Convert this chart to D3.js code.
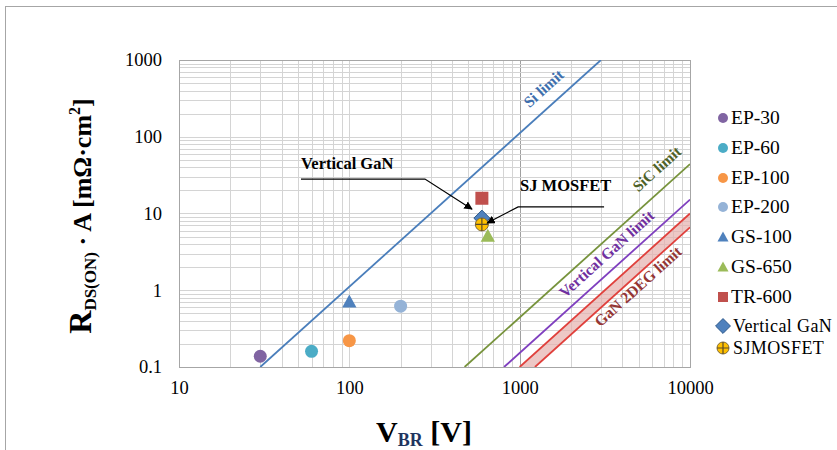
<!DOCTYPE html>
<html>
<head>
<meta charset="utf-8">
<script src="https://cdn.jsdelivr.net/npm/d3@7"></script>
<style>
  body { margin: 0; background: #fff; }
  svg { display: block; }
  svg text { font-family: 'Liberation Serif', 'Times New Roman', serif; }
</style>
</head>
<body>
<div id="chart"></div>
<script>
// device series (VBR in V, Ron*A in mOhm*cm2)
const seriesNames = ['EP-30', 'EP-60', 'EP-100', 'EP-200', 'GS-100', 'GS-650', 'TR-600', 'Vertical GaN', 'SJMOSFET']
const seriesVbr = [30, 60, 100, 200, 100, 650, 600, 600, 600]
const seriesRon = [0.138, 0.16, 0.22, 0.62, 0.71, 5.1, 15.8, 8.7, 7.2]

// material limit lines, start / end points
const limitNames = ['Si limit', 'SiC limit', 'Vertical GaN limit', 'GaN 2DEG limit']
const limitVbr = [[30, 3000], [475, 10000], [810, 10000], [1000, 10000]]
const limitRon = [[0.1, 1000], [0.1, 44], [0.1, 15.2], [0.1, 10]]
// lower edge of the 2DEG band
const bandLowVbr = [1230, 10000]
const bandLowRon = [0.1, 6.6]

const xTicks = [10, 100, 1000, 10000]
const yTicks = [0.1, 1, 10, 100, 1000]

const FONT = "'Liberation Serif', 'Times New Roman', serif"

const colors = {
  'EP-30': '#8064A2',
  'EP-60': '#4BACC6',
  'EP-100': '#F79646',
  'EP-200': '#95B3D7',
  'GS-100': '#4F81BD',
  'GS-650': '#9BBB59',
  'TR-600': '#C0504D',
  'Vertical GaN': '#4F81BD',
  SJMOSFET: '#FFC000'
}
const shapes = {
  'GS-100': 'triangle',
  'GS-650': 'triangle',
  'TR-600': 'square',
  'Vertical GaN': 'diamond',
  SJMOSFET: 'cross'
}
const lineColors = ['#4A7EBB', '#77933C', '#7F3FBF', '#E0403C']
const labelColors = ['#3E6FAE', '#4F6228', '#7030A0', '#953735']

const width = 837
const height = 450
const margin = { top: 60, right: 147, bottom: 83, left: 179 }

const svg = d3.select('#chart').append('svg')
  .attr('width', width)
  .attr('height', height)
  .attr('font-family', FONT)

svg.append('rect')
  .attr('width', width)
  .attr('height', height)
  .attr('fill', '#fff')

// outer chart frame
svg.append('rect')
  .attr('x', 5.5)
  .attr('y', 6.5)
  .attr('width', width + 20)
  .attr('height', height + 20)
  .attr('fill', 'none')
  .attr('stroke', '#a6a6a6')

const x = d3.scaleLog()
  .domain([10, 10000])
  .range([margin.left, width - margin.right])

const y = d3.scaleLog()
  .domain([0.1, 1000])
  .range([height - margin.bottom, margin.top])

// grid
const grid = svg.append('g')
grid.selectAll('line.vx')
  .data(x.ticks())
  .enter()
  .append('line')
  .attr('x1', d => Math.round(x(d)) + 0.5)
  .attr('x2', d => Math.round(x(d)) + 0.5)
  .attr('y1', y.range()[1])
  .attr('y2', y.range()[0])
  .attr('stroke', d => d === 1000 ? '#a0a0a0' : '#d4d4d4')
grid.selectAll('line.hy')
  .data(y.ticks())
  .enter()
  .append('line')
  .attr('y1', d => Math.round(y(d)) + 0.5)
  .attr('y2', d => Math.round(y(d)) + 0.5)
  .attr('x1', x.range()[0])
  .attr('x2', x.range()[1])
  .attr('stroke', '#d4d4d4')

svg.append('rect')
  .attr('x', x.range()[0] + 0.5)
  .attr('y', y.range()[1] + 0.5)
  .attr('width', x.range()[1] - x.range()[0])
  .attr('height', y.range()[0] - y.range()[1])
  .attr('fill', 'none')
  .attr('stroke', '#a6a6a6')

// axes (labels only, Excel style)
const xAxis = d3.axisBottom(x).tickValues(xTicks).tickFormat(d3.format('d')).tickSize(0).tickPadding(14)
svg.append('g')
  .attr('transform', `translate(0,${y.range()[0]})`)
  .call(xAxis)
  .attr('font-family', FONT)
  .attr('font-size', 18.5)
  .call(g => g.select('.domain').remove())
  .selectAll('text')
  .attr('fill', '#000')

const yAxis = d3.axisLeft(y).tickValues(yTicks).tickFormat(d => d < 1 ? '0.1' : d3.format('d')(d)).tickSize(0).tickPadding(17)
svg.append('g')
  .attr('transform', `translate(${x.range()[0]},0)`)
  .call(yAxis)
  .attr('font-family', FONT)
  .attr('font-size', 18.5)
  .call(g => g.select('.domain').remove())
  .selectAll('text')
  .attr('fill', '#000')

// clip for the limit lines
svg.append('clipPath')
  .attr('id', 'plotClip')
  .append('rect')
  .attr('x', x.range()[0])
  .attr('y', y.range()[1])
  .attr('width', x.range()[1] - x.range()[0])
  .attr('height', y.range()[0] - y.range()[1])

const plot = svg.append('g').attr('clip-path', 'url(#plotClip)')

// 2DEG band
const band = [
  [limitVbr[3][0], limitRon[3][0]],
  [limitVbr[3][1], limitRon[3][1]],
  [bandLowVbr[1], bandLowRon[1]],
  [bandLowVbr[0], bandLowRon[0]]
]
const lineGen = d3.line().x(d => x(d[0])).y(d => y(d[1]))
plot.append('path')
  .attr('d', lineGen(band) + 'Z')
  .attr('fill', '#E6B0AE')
  .attr('fill-opacity', 0.7)

limitNames.forEach((name, i) => {
  const pts = [[limitVbr[i][0], limitRon[i][0]], [limitVbr[i][1], limitRon[i][1]]]
  plot.append('path')
    .attr('d', lineGen(pts))
    .attr('stroke', lineColors[i])
    .attr('stroke-width', 1.8)
    .attr('fill', 'none')
})
plot.append('path')
  .attr('d', lineGen([[bandLowVbr[0], bandLowRon[0]], [bandLowVbr[1], bandLowRon[1]]]))
  .attr('stroke', lineColors[3])
  .attr('stroke-width', 1.8)
  .attr('fill', 'none')

// limit labels, placed along each line
const labelAt = [[1450, 380], [6700, 34], [3400, 2.65], [5200, 1.0]]
const angle = Math.atan2(y(1000) - y(0.1), x(3000) - x(30)) * 180 / Math.PI
limitNames.forEach((name, i) => {
  svg.append('text')
    .attr('transform', `translate(${x(labelAt[i][0])},${y(labelAt[i][1])}) rotate(${angle})`)
    .attr('text-anchor', 'middle')
    .attr('font-family', FONT)
    .attr('font-weight', 'bold')
    .attr('font-size', 15.5)
    .attr('fill', labelColors[i])
    .text(name)
})

// markers
function drawMarker (g, name, cx, cy, s) {
  const c = colors[name]
  const shape = shapes[name] || 'circle'
  if (shape === 'circle') {
    g.append('circle').attr('cx', cx).attr('cy', cy).attr('r', s / 2).attr('fill', c)
  } else if (shape === 'triangle') {
    g.append('path')
      .attr('d', `M${cx},${cy - s * 0.55}L${cx + s * 0.55},${cy + s * 0.45}L${cx - s * 0.55},${cy + s * 0.45}Z`)
      .attr('fill', c)
  } else if (shape === 'square') {
    g.append('rect').attr('x', cx - s / 2).attr('y', cy - s / 2).attr('width', s).attr('height', s).attr('fill', c)
  } else if (shape === 'diamond') {
    const r = s * 0.62
    g.append('path')
      .attr('d', `M${cx},${cy - r}L${cx + r},${cy}L${cx},${cy + r}L${cx - r},${cy}Z`)
      .attr('fill', c)
      .attr('stroke', '#2F5A8C')
      .attr('stroke-width', 1)
  } else {
    const r = s / 2
    g.append('circle').attr('cx', cx).attr('cy', cy).attr('r', r).attr('fill', c)
      .attr('stroke', '#7F6A3A').attr('stroke-width', 1)
    g.append('path')
      .attr('d', `M${cx - r},${cy}H${cx + r}M${cx},${cy - r}V${cy + r}`)
      .attr('stroke', '#5A4A2A')
      .attr('stroke-width', 1.2)
  }
}

const points = svg.append('g')
seriesNames.forEach((name, i) => {
  drawMarker(points, name, x(seriesVbr[i]), y(seriesRon[i]), 13)
})

// annotations with arrows
svg.append('defs').append('marker')
  .attr('id', 'arrow')
  .attr('viewBox', '0 0 10 10')
  .attr('refX', 9)
  .attr('refY', 5)
  .attr('markerWidth', 7)
  .attr('markerHeight', 7)
  .attr('orient', 'auto')
  .append('path')
  .attr('d', 'M0,0L10,5L0,10Z')
  .attr('fill', '#000')

const annNames = ['Vertical GaN', 'SJ MOSFET']
const annText = [[52, 38], [1005, 19.6]]
const annPath = [
  [[52, 28.1], [278, 28.1], [525, 11.4]],
  [[3130, 12.2], [979, 12.2], [644, 7.5]]
]
annNames.forEach((name, i) => {
  svg.append('path')
    .attr('d', lineGen(annPath[i]))
    .attr('fill', 'none')
    .attr('stroke', '#000')
    .attr('stroke-width', 1.2)
    .attr('marker-end', 'url(#arrow)')
  svg.append('text')
    .attr('x', x(annText[i][0]))
    .attr('y', y(annText[i][1]))
    .attr('font-family', FONT)
    .attr('font-weight', 'bold')
    .attr('font-size', 16.5)
    .text(name)
})

// legend
const legendY = [118, 148, 178, 207, 237, 267, 297, 326, 348]
const legend = svg.append('g')
seriesNames.forEach((name, i) => {
  const big = name === 'Vertical GaN' || name === 'SJMOSFET'
  drawMarker(legend, name, 723, legendY[i], big ? 12 : 10)
  legend.append('text')
    .attr('x', big ? 733 : 731)
    .attr('y', legendY[i] + 6)
    .attr('font-family', FONT)
    .attr('font-size', big ? 18 : 19.5)
    .attr('letter-spacing', big ? '0.4px' : null)
    .text(name)
})

// axis titles
const yTitle = svg.append('text')
  .attr('transform', `translate(91,${216}) rotate(-90)`)
  .attr('text-anchor', 'middle')
  .attr('font-family', FONT)
  .attr('font-weight', 'bold')
  .attr('font-size', 26)
yTitle.append('tspan').attr('font-size', 32).text('R')
yTitle.append('tspan').attr('font-size', 17).attr('dy', 5).text('DS(ON)')
yTitle.append('tspan').attr('dy', -5).text(' · A [mΩ·cm')
yTitle.append('tspan').attr('font-size', 16).attr('dy', -11).text('2')
yTitle.append('tspan').attr('dy', 11).text(']')

const xTitle = svg.append('text')
  .attr('x', 424)
  .attr('y', 442)
  .attr('text-anchor', 'middle')
  .attr('font-family', FONT)
  .attr('font-weight', 'bold')
  .attr('font-size', 30)
xTitle.append('tspan').text('V')
xTitle.append('tspan').attr('font-size', 18).attr('dy', 4).attr('fill', '#1F3560').text('BR')
xTitle.append('tspan').attr('dy', -4).text(' [V]')
</script>
</body>
</html>
